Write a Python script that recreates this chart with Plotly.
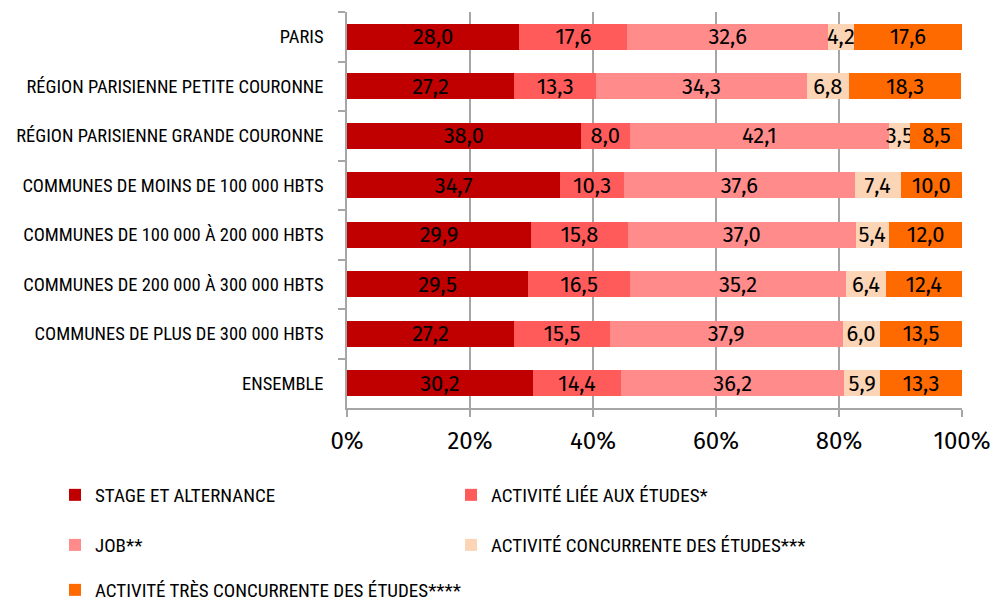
import plotly.graph_objects as go

categories = [
    "PARIS",
    "RÉGION PARISIENNE PETITE COURONNE",
    "RÉGION PARISIENNE GRANDE COURONNE",
    "COMMUNES DE MOINS DE 100 000 HBTS",
    "COMMUNES DE 100 000 À 200 000 HBTS",
    "COMMUNES DE 200 000 À 300 000 HBTS",
    "COMMUNES DE PLUS DE 300 000 HBTS",
    "ENSEMBLE",
]
stage = [28.0, 27.2, 38.0, 34.7, 29.9, 29.5, 27.2, 30.2]
liee = [17.6, 13.3, 8.0, 10.3, 15.8, 16.5, 15.5, 14.4]
job = [32.6, 34.3, 42.1, 37.6, 37.0, 35.2, 37.9, 36.2]
concurrente = [4.2, 6.8, 3.5, 7.4, 5.4, 6.4, 6.0, 5.9]
tres_concurrente = [17.6, 18.3, 8.5, 10.0, 12.0, 12.4, 13.5, 13.3]

series_names = [
    "STAGE ET ALTERNANCE",
    "ACTIVITÉ LIÉE AUX ÉTUDES*",
    "JOB**",
    "ACTIVITÉ CONCURRENTE DES ÉTUDES***",
    "ACTIVITÉ TRÈS CONCURRENTE DES ÉTUDES****",
]
series_values = [stage, liee, job, concurrente, tres_concurrente]
x_tickvals = [0, 20, 40, 60, 80, 100]
x_ticktext = ["0%", "20%", "40%", "60%", "80%", "100%"]

colors = ["#C00000", "#FF5B5B", "#FF8B8B", "#FBD5B5", "#FF6A00"]
legend_ids = ["legend", "legend", "legend2", "legend2", "legend3"]

cond_font = "Roboto Condensed, DejaVu Sans Condensed, sans-serif"
num_font = "Fira Sans, Open Sans, sans-serif"

fig = go.Figure()
for name, vals, col, lg in zip(series_names, series_values, colors, legend_ids):
    fig.add_trace(go.Bar(
        y=categories, x=vals, name=name, orientation="h",
        marker=dict(color=col, line=dict(width=0)),
        text=vals, texttemplate="%{x:.1f}", textposition="inside",
        insidetextanchor="middle", textangle=0,
        textfont=dict(family=num_font, size=22, color="black"),
        legend=lg, hoverinfo="skip",
    ))

leg_common = dict(
    orientation="h",
    font=dict(family=cond_font, size=19, color="black"),
    xanchor="left", yanchor="middle", x=-0.4748, traceorder="normal",
    bgcolor="rgba(0,0,0,0)", itemwidth=30,
)
two_col = dict(entrywidth=351, entrywidthmode="pixels")

fig.update_layout(
    width=995, height=601,
    margin=dict(l=347, r=33, t=12, b=193, autoexpand=False),
    paper_bgcolor="white", plot_bgcolor="white",
    barmode="stack", bargap=0.48,
    separators=", ",
    uniformtext=dict(minsize=22, mode="show"),
    showlegend=True,
    legend=dict(leg_common, **two_col, y=-0.2197),
    legend2=dict(leg_common, **two_col, y=-0.346),
    legend3=dict(leg_common, y=-0.4596),
    xaxis=dict(
        range=[0, 100], tickvals=x_tickvals, ticktext=x_ticktext,
        showgrid=True, gridcolor="#A6A6A6", gridwidth=1.5,
        showline=True, linecolor="#A6A6A6", linewidth=1.5,
        ticks="outside", ticklen=7, tickcolor="#A6A6A6", tickwidth=1.5,
        tickfont=dict(family=num_font, size=24, color="black"),
        ticklabelstandoff=3,
        zeroline=False, fixedrange=True, automargin=False,
    ),
    yaxis=dict(
        categoryorder="array", categoryarray=categories, autorange="reversed",
        showline=True, linecolor="#A6A6A6", linewidth=1.5,
        ticks="outside", ticklen=7, tickcolor="#A6A6A6", tickwidth=1.5,
        tickson="boundaries",
        tickfont=dict(family=cond_font, size=18.5, color="black"),
        ticklabelstandoff=18,
        fixedrange=True, automargin=False,
    ),
)

fig.write_html(
    "out.html",
    config={"displayModeBar": False},
    post_script="document.body.style.margin='0';document.body.style.overflow='hidden';",
)
